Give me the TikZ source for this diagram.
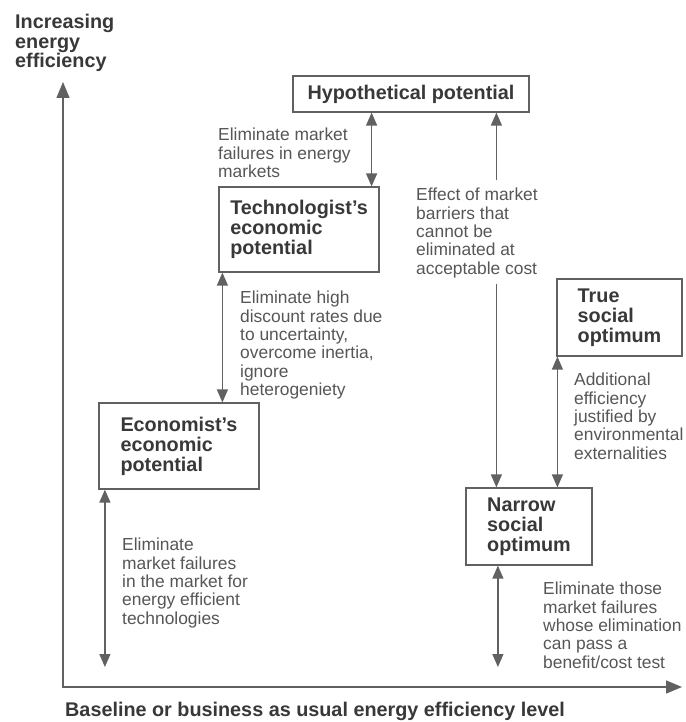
\documentclass[tikz,border=0pt]{standalone}
\usepackage{fontspec}
\setmainfont{Liberation Sans}
\usetikzlibrary{arrows.meta,calc}

\definecolor{ink}{gray}{0.22}
\definecolor{rule}{gray}{0.38}

\begin{document}
\begin{tikzpicture}[x=1pt,y=-1pt,
	box/.style={draw=rule,line width=1.2pt,align=left,text=ink,inner sep=0pt,
		font=\fontsize{19.8}{20}\selectfont\bfseries},
	note/.style={anchor=north west,align=left,inner sep=0pt,text=ink!85,
		font=\fontsize{17.4}{18.3}\selectfont},
	head/.style={anchor=north west,align=left,inner sep=0pt,text=ink,
		font=\fontsize{19.8}{19.5}\selectfont\bfseries},
	link/.style={draw=rule,line width=1.3pt,
		{Triangle[length=13pt,width=11pt]}-{Triangle[length=13pt,width=11pt]}},
	up/.style={draw=rule,line width=1.3pt,-{Triangle[length=13pt,width=11pt]}},
	axis/.style={draw=rule,line width=1.4pt,
		{Triangle[length=16pt,width=13pt]}-{Triangle[length=16pt,width=13pt]}}]

	\useasboundingbox (0,0) rectangle (685,722);

	% axes
	\coordinate (O) at (63,687);
	\coordinate (ytop) at (63,82);
	\coordinate (xend) at (682,687);
	\coordinate (floor) at (0,667);
	\draw[axis] (ytop) -- (O) -- (xend);

	\node[head] (ylab) at (15,14) {Increasing\\energy\\efficiency};
	\node[head] (xlab) at (65,701.5) {Baseline or business as usual energy efficiency level};

	% levels
	\node[box,minimum width=236pt,minimum height=36pt] (hyp) at (411,94) {Hypothetical potential};
	\node[box,minimum width=160pt,minimum height=85pt] (tech) at (299,229.5) {Technologist's\\economic\\potential};
	\node[box,minimum width=160pt,minimum height=86pt] (econ) at (179,446) {Economist's\\economic\\potential};
	\node[box,minimum width=125pt,minimum height=77pt] (true) at (619.5,317.5) {True\\social\\optimum};
	\node[box,minimum width=126pt,minimum height=77pt] (narrow) at (529,526.5) {Narrow\\social\\optimum};

	% explanations
	\node[note] (mkt) at (218,128) {Eliminate market\\failures in energy\\markets};
	\node[note] (high) at (240,291) {Eliminate high\\discount rates due\\to uncertainty,\\overcome inertia,\\ignore\\heterogeniety};
	\node[note] (effect) at (416,188) {Effect of market\\barriers that\\cannot be\\eliminated at\\acceptable cost};
	\node[note] (addl) at (574,373) {Additional\\efficiency\\justified by\\environmental\\externalities};
	\node[note] (tfail) at (122,538) {Eliminate\\market failures\\in the market for\\energy efficient\\technologies};
	\node[note] (pass) at (543,582) {Eliminate those\\market failures\\whose elimination\\can pass a\\benefit/cost test};

	% connectors
	\coordinate (ht) at ([xshift=-8pt]tech.north east);
	\draw[link] (ht |- hyp.south) -- (ht);
	\coordinate (te) at ([xshift=4pt]tech.south west);
	\draw[link] (te) -- (te |- econ.north);
	\coordinate (tn) at ([xshift=1pt]true.south west);
	\draw[link] (tn) -- (tn |- narrow.north);
	\coordinate (ex) at ([xshift=31pt]narrow.north west);
	\draw[up] ([yshift=8pt]effect.north -| ex) -- (ex |- hyp.south);
	\draw[up] ([yshift=-6pt]effect.south -| ex) -- (ex);
	\coordinate (eb) at ([xshift=6.5pt]econ.south west);
	\draw[link] (eb) -- (eb |- floor);
	\coordinate (nb) at ([xshift=32.5pt]narrow.south west);
	\draw[link] (nb) -- (nb |- floor);

\end{tikzpicture}
\end{document}
